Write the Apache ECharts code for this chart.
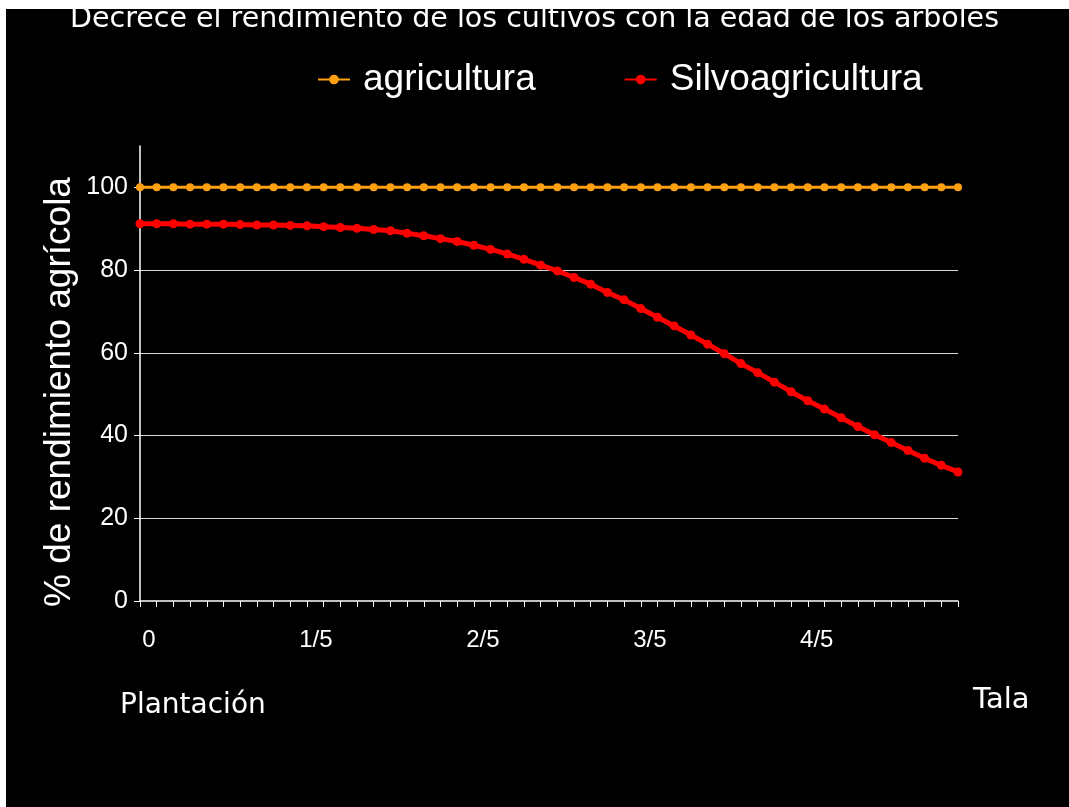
<!DOCTYPE html>
<html>
<head>
<meta charset="utf-8">
<script src="https://cdn.jsdelivr.net/npm/echarts@6/dist/echarts.min.js"></script>
<style>
html,body{margin:0;padding:0;background:#000;}
#chart{width:1069px;height:807px;}
</style>
</head>
<body>
<div id="chart"></div>
<script>
var categories = ['0','1','2','3','4','5','6','7','8','9','10','11','12','13','14','15','16','17','18','19','20','21','22','23','24','25','26','27','28','29','30','31','32','33','34','35','36','37','38','39','40','41','42','43','44','45','46','47','48','49'];
var tickLabels = {0:'0', 10:'1/5', 20:'2/5', 30:'3/5', 40:'4/5'};
var agricultura = [100,100,100,100,100,100,100,100,100,100,100,100,100,100,100,100,100,100,100,100,100,100,100,100,100,100,100,100,100,100,100,100,100,100,100,100,100,100,100,100,100,100,100,100,100,100,100,100,100,100];
var silvoagricultura = [91.2,91.2,91.2,91.1,91.1,91.1,91.0,90.9,90.9,90.8,90.7,90.5,90.3,90.1,89.8,89.5,88.9,88.3,87.6,86.9,86.0,85.0,83.9,82.6,81.2,79.8,78.2,76.6,74.6,72.8,70.7,68.6,66.5,64.3,62.1,59.8,57.4,55.2,52.9,50.6,48.4,46.4,44.3,42.2,40.2,38.3,36.4,34.5,32.8,31.2];
var yTicks = [0,20,40,60,80,100];
var titleText = 'Decrece el rendimiento de los cultivos con la edad de los arboles';
var yName = '% de rendimiento agrícola';

var chart = echarts.init(document.getElementById('chart'));
var sans = '"Liberation Sans", Arial, sans-serif';
var comic = '"DejaVu Sans", sans-serif';
chart.setOption({
  animation: false,
  backgroundColor: '#000',
  legend: {
    left: 312, top: 56,
    itemWidth: 32, itemHeight: 12, itemGap: 88,
    textStyle: {color: '#fff', fontSize: 37, fontFamily: sans, padding: [0,0,0,8]},
    data: ['agricultura', 'Silvoagricultura']
  },
  grid: {left: 140, right: 111, top: 146, bottom: 206},
  xAxis: {
    type: 'category', data: categories, boundaryGap: false,
    axisLine: {lineStyle: {color: '#fff', width: 1.5}},
    axisTick: {interval: 0, length: 6, lineStyle: {color: '#fff'}},
    axisLabel: {
      interval: function (i) { return tickLabels[i] !== undefined; },
      formatter: function (v, i) { return tickLabels[i] || ''; },
      color: '#fff', fontSize: 24, fontFamily: sans, margin: 27, padding: [0,0,0,18]
    },
    splitLine: {show: false}
  },
  yAxis: {
    type: 'value', min: 0, max: 110, interval: 20,
    axisLine: {show: true, lineStyle: {color: '#fff', width: 1.5}},
    axisTick: {show: true, length: 6, customValues: yTicks, lineStyle: {color: '#fff'}},
    axisLabel: {customValues: yTicks, color: '#fff', fontSize: 25, fontFamily: sans, margin: 12},
    splitLine: {show: true, showMaxLine: false, showMinLine: false, lineStyle: {color: '#d8d8d8', width: 1}}
  },
  series: [
    {name: 'agricultura', type: 'line', data: agricultura, symbol: 'circle', symbolSize: 8, showAllSymbol: true,
     itemStyle: {color: '#FFA010'}, lineStyle: {color: '#FFA010', width: 3}},
    {name: 'Silvoagricultura', type: 'line', data: silvoagricultura, symbol: 'circle', symbolSize: 9, showAllSymbol: true,
     itemStyle: {color: '#FF0000'}, lineStyle: {color: '#FF0000', width: 5}}
  ],
  graphic: [
    {type: 'text', left: 'center', top: 5, style: {text: titleText, fill: '#fff', font: '28.5px ' + comic}},
    {type: 'rect', shape: {x: 0, y: 0, width: 1069, height: 9}, style: {fill: '#fff'}, z: 100},
    {type: 'rect', shape: {x: 0, y: 0, width: 6, height: 807}, style: {fill: '#fff'}, z: 100},
    {type: 'text', x: 60, y: 392, rotation: Math.PI / 2,
     style: {text: yName, fill: '#fff', font: '37px ' + sans, align: 'center', verticalAlign: 'middle'}},
    {type: 'text', x: 120, y: 706, style: {text: 'Plantación', fill: '#fff', font: '28px ' + comic, verticalAlign: 'middle'}},
    {type: 'text', x: 973, y: 700, style: {text: 'Tala', fill: '#fff', font: '29px ' + comic, verticalAlign: 'middle'}}
  ]
});
</script>
</body>
</html>
